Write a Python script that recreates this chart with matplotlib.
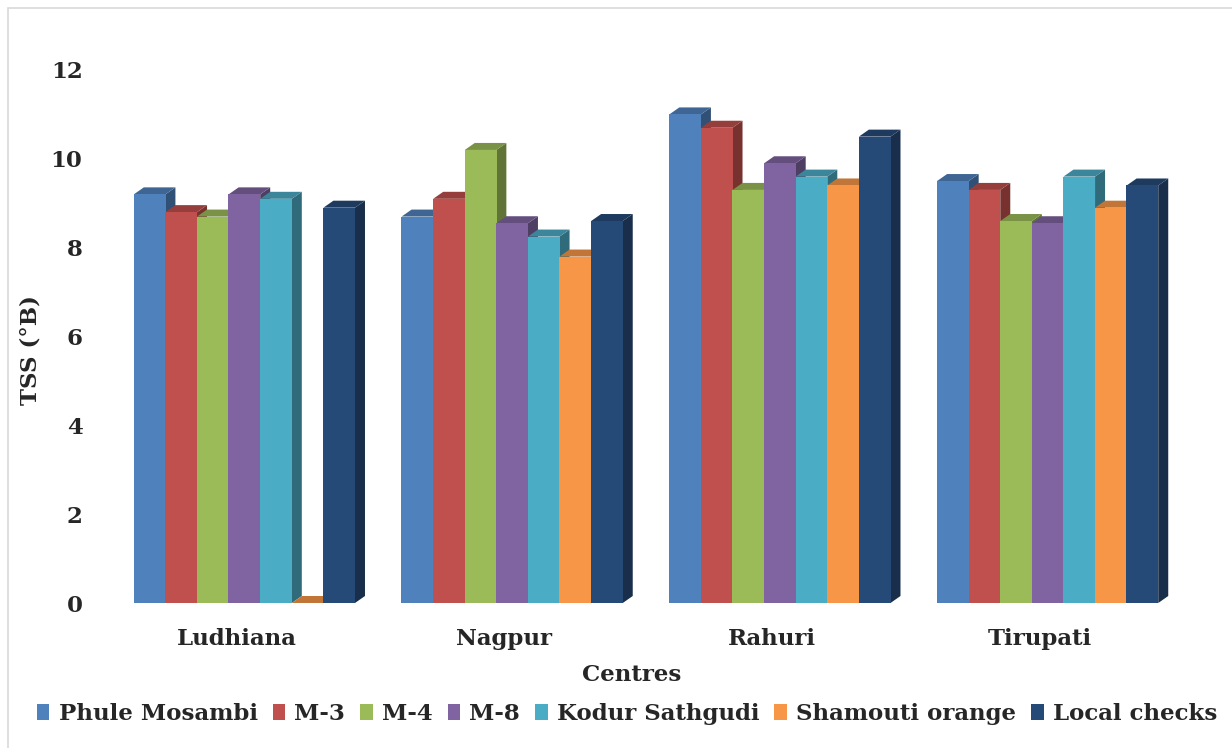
import matplotlib.pyplot as plt
from matplotlib.patches import Polygon, Patch, Rectangle
import matplotlib.colors as mcolors
import numpy as np

# ---------------- data ----------------
centres = ["Ludhiana", "Nagpur", "Rahuri", "Tirupati"]
varieties = ["Phule Mosambi", "M-3", "M-4", "M-8", "Kodur Sathgudi",
             "Shamouti orange", "Local checks"]

phule_mosambi = [9.2, 8.7, 11.0, 9.5]
m3 = [8.8, 9.1, 10.7, 9.3]
m4 = [8.7, 10.2, 9.3, 8.6]
m8 = [9.2, 8.55, 9.9, 8.55]
kodur_sathgudi = [9.1, 8.25, 9.6, 9.6]
shamouti_orange = [0.0, 7.8, 9.4, 8.9]
local_checks = [8.9, 8.6, 10.5, 9.4]

series = [phule_mosambi, m3, m4, m8, kodur_sathgudi, shamouti_orange, local_checks]
colors = ["#4F81BD", "#C0504D", "#9BBB59", "#8064A2", "#4BACC6", "#F79646", "#264A78"]

yticks = [0, 2, 4, 6, 8, 10, 12]

# ---------------- figure ----------------
W, H, DPI = 1232, 748, 100
fig = plt.figure(figsize=(W / DPI, H / DPI), dpi=DPI)

FONT = "DejaVu Serif"
TXT = "#262626"
FS = 16.5

# axes box in pixels: x 95..1215, y 70..605 (top/bottom)
ax_left, ax_right, ax_top, ax_bot = 95, 1215, 70, 603
ax = fig.add_axes([ax_left / W, 1 - ax_bot / H,
                   (ax_right - ax_left) / W, (ax_bot - ax_top) / H])

x_lo, x_hi = -0.558, 3.625
ax.set_xlim(x_lo, x_hi)
ax.set_ylim(0, 12)

bar_w = 0.118
px_x = (ax_right - ax_left) / (x_hi - x_lo)   # pixels per x unit
px_y = (ax_bot - ax_top) / 12.0               # pixels per y unit
dx = 10 / px_x
dy = 7 / px_y


def shade(c, f):
    r, g, b = mcolors.to_rgb(c)
    return (r * f, g * f, b * f)


x = np.arange(len(centres))
n = len(series)
z = 2
for s, (vals, col) in enumerate(zip(series, colors)):
    xs = x + (s - (n - 1) / 2) * bar_w
    for xc, v in zip(xs, vals):
        x0, x1 = xc - bar_w / 2, xc + bar_w / 2
        side = Polygon([(x1, 0), (x1 + dx, dy), (x1 + dx, v + dy), (x1, v)],
                       closed=True, facecolor=shade(col, 0.62), edgecolor="none", zorder=z)
        top = Polygon([(x0, v), (x1, v), (x1 + dx, v + dy), (x0 + dx, v + dy)],
                      closed=True, facecolor=shade(col, 0.78), edgecolor="none", zorder=z)
        ax.add_patch(side)
        ax.add_patch(top)
    ax.bar(xs, vals, width=bar_w * 1.01, color=col, edgecolor="none", zorder=z + 0.5)
    z += 1

ax.set_yticks(yticks)
ax.set_yticklabels([str(t) for t in yticks])
ax.set_xticks(x - 0.03)
ax.set_xticklabels(centres)
ax.tick_params(axis="both", length=0, colors=TXT, labelsize=FS)
ax.tick_params(axis="x", pad=18)
ax.tick_params(axis="y", pad=9)
for lab in ax.get_xticklabels() + ax.get_yticklabels():
    lab.set_fontfamily(FONT)
    lab.set_fontweight("bold")

for sp in ax.spines.values():
    sp.set_visible(False)
ax.patch.set_alpha(0)

fig.text(30 / W, 1 - 350 / H, "TSS (°B)", rotation=90, ha="center", va="center",
         fontsize=FS, fontweight="bold", family=FONT, color=TXT)
fig.text(632 / W, 1 - 675 / H, "Centres", ha="center", va="center",
         fontsize=FS, fontweight="bold", family=FONT, color=TXT)

handles = [Patch(facecolor=c, edgecolor="none") for c in colors]
fig.legend(handles, varieties, loc="center", bbox_to_anchor=(627 / W, 1 - 714 / H),
           ncol=7, frameon=False, handlelength=0.55, handleheight=0.75,
           handletextpad=0.4, columnspacing=0.65,
           prop={"family": FONT, "weight": "bold", "size": FS},
           labelcolor=TXT)

# light outer border of the chart area
fig.add_artist(Rectangle((8 / W, -0.05), 1.1, 1 - 8 / H + 0.05, transform=fig.transFigure,
                         facecolor="none", edgecolor="#D9D9D9", linewidth=1.2))

fig.savefig("out.png", dpi=DPI)
